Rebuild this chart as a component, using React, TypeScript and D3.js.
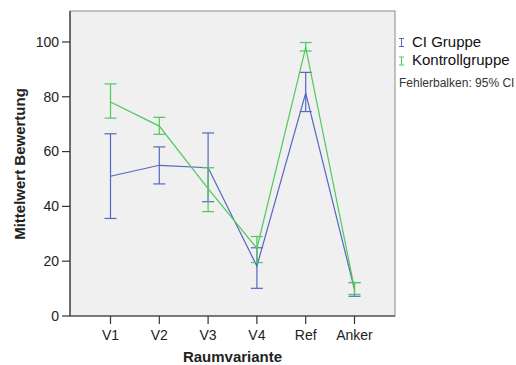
import React from "react";
import * as d3 from "d3";

const categories = ["V1", "V2", "V3", "V4", "Ref", "Anker"];
const seriesNames = ["CI Gruppe", "Kontrollgruppe"];
const ciMean = [51, 55, 54.1, 18.2, 81.3, 9.6];
const ciLower = [35.6, 48.2, 41.7, 10.1, 74.6, 7.2];
const ciUpper = [66.5, 61.7, 66.8, 24.9, 88.9, 12.2];
const kgMean = [78.1, 69.3, 46.5, 24.7, 98, 10];
const kgLower = [72.2, 66.3, 38.1, 19.5, 96.7, 7.9];
const kgUpper = [84.7, 72.5, 54.1, 29, 99.8, 12.2];
const yTicks = [0, 20, 40, 60, 80, 100];
const colors = ["#5567c0", "#4ec95c"];

const W = 516, H = 365;
const L = 70, R = 395, T = 11, B = 316;
const FONT = "'Liberation Sans', Arial, sans-serif";

export default function App() {
  const x = d3.scalePoint<string>().domain(categories).range([L, R]).padding(0.83);
  const y = d3.scaleLinear().domain([0, 111.3]).range([B, T]);
  const line = d3.line<[string, number]>().x(d => x(d[0])!).y(d => y(d[1]));

  const series = [
    { name: seriesNames[0], mean: ciMean, lo: ciLower, hi: ciUpper, color: colors[0] },
    { name: seriesNames[1], mean: kgMean, lo: kgLower, hi: kgUpper, color: colors[1] },
  ];
  const cap = 6;

  return (
    <svg width={W} height={H} style={{ position: "absolute", left: 0, top: 0 }} fontFamily={FONT}>
      <rect x={0} y={0} width={W} height={H} fill="#fff" />
      <rect x={L} y={T} width={R - L} height={B - T} fill="#f0f0f0" stroke="#8a8a8a" strokeWidth={1} />
      {series.map((s, si) => (
        <g key={si}>
          <path d={line(categories.map((c, i) => [c, s.mean[i]]))!} fill="none" stroke={s.color} strokeWidth={1.2} />
          {categories.map((c, i) => {
            const cx = x(c)!;
            return (
              <g key={c} stroke={s.color} strokeWidth={1.2}>
                <line x1={cx} x2={cx} y1={y(s.lo[i])} y2={y(s.hi[i])} />
                <line x1={cx - cap} x2={cx + cap} y1={y(s.lo[i])} y2={y(s.lo[i])} />
                <line x1={cx - cap} x2={cx + cap} y1={y(s.hi[i])} y2={y(s.hi[i])} />
              </g>
            );
          })}
        </g>
      ))}
      {/* axes */}
      <line x1={L} x2={L} y1={T} y2={B} stroke="#333" strokeWidth={1.2} />
      <line x1={L} x2={R} y1={B} y2={B} stroke="#333" strokeWidth={1.2} />
      {yTicks.map(t => (
        <g key={t}>
          <line x1={L - 8} x2={L} y1={y(t)} y2={y(t)} stroke="#333" strokeWidth={1.2} />
          <text x={L - 11} y={y(t)} dy="0.35em" textAnchor="end" fontSize={14} fill="#222">{t}</text>
        </g>
      ))}
      {categories.map(c => (
        <g key={c}>
          <line x1={x(c)} x2={x(c)} y1={B} y2={B + 8} stroke="#333" strokeWidth={1.2} />
          <text x={x(c)} y={340} textAnchor="middle" fontSize={14} fill="#222">{c}</text>
        </g>
      ))}
      <text x={(L + R) / 2} y={362} textAnchor="middle" fontSize={15} fontWeight="bold" fill="#222">Raumvariante</text>
      <text transform={`translate(25,164) rotate(-90)`} textAnchor="middle" fontSize={15} fontWeight="bold" fill="#222">Mittelwert Bewertung</text>
      {/* legend */}
      {series.map((s, i) => {
        const ly = 46.5 + i * 18.5;
        return (
          <g key={s.name}>
            <g stroke={s.color} strokeWidth={1}>
              <line x1={401.5} x2={401.5} y1={ly - 8} y2={ly} />
              <line x1={399} x2={404} y1={ly - 8} y2={ly - 8} />
              <line x1={399} x2={404} y1={ly} y2={ly} />
            </g>
            <text x={412} y={ly} fontSize={15} fill="#111">{s.name}</text>
          </g>
        );
      })}
      <text x={399} y={87} fontSize={12} fill="#333">Fehlerbalken: 95% CI</text>
    </svg>
  );
}
